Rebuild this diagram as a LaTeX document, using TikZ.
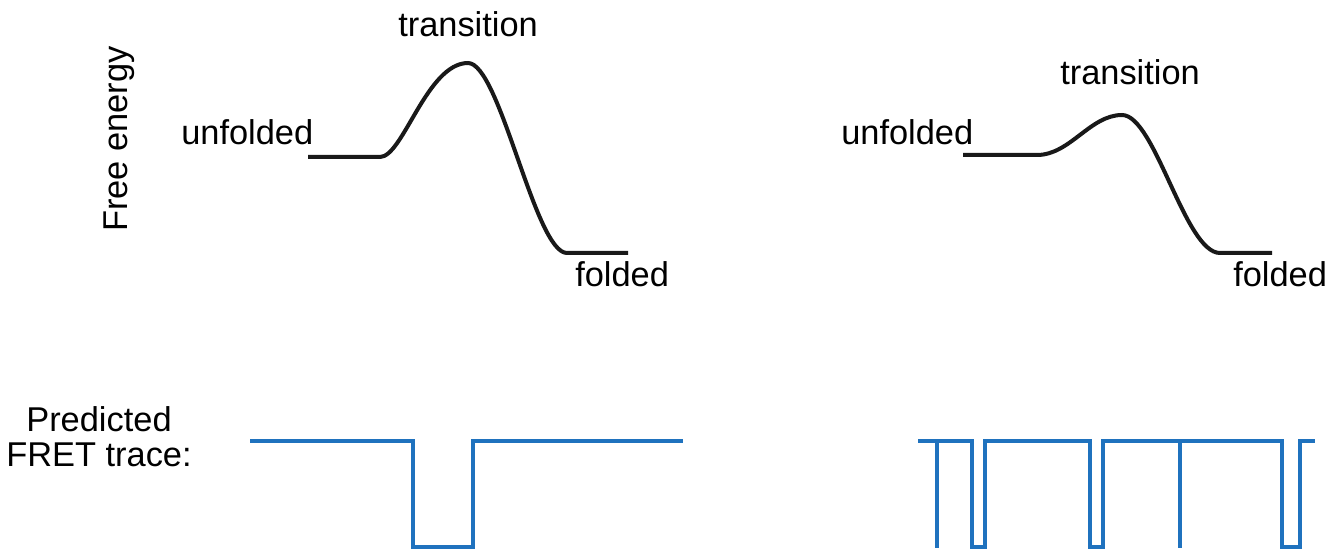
\documentclass[tikz,border=0pt]{standalone}
\usepackage{fontspec}
\setmainfont{Liberation Sans}
\definecolor{tracecol}{RGB}{31,114,190}
\begin{document}
\begin{tikzpicture}[x=0.75pt,y=-0.75pt,
  lbl/.style={inner sep=0pt,font=\fontsize{25.8}{26.25}\selectfont},
  energy/.style={line width=3pt,black!90,line cap=butt},
  fret/.style={line width=3.5pt,tracecol,line join=miter}]
\useasboundingbox (0,0) rectangle (1340,552);

% axis label and trace caption
\node[lbl,rotate=90,anchor=base] (fe) at (127,139) {Free energy};
\node[lbl,align=center,anchor=base] (pft) at (99,467) {Predicted\\FRET trace:};

% left energy landscape: high barrier
\coordinate (lu0) at (308,157);
\coordinate (lu1) at (380,157);
\coordinate (lt)  at (468,63);
\coordinate (lf0) at (567,253);
\coordinate (lf1) at (628,253);
\draw[energy] (lu0) -- (lu1)
  .. controls (403,157) and (427,63) .. (lt)
  .. controls (500,63) and (535,253) .. (lf0) -- (lf1);
\node[lbl,anchor=base west] (lun) at (181,145) {unfolded};
\node[lbl,anchor=base west] (ltr) at (398,37) {transition};
\node[lbl,anchor=base west] (lfo) at (575,287) {folded};

% right energy landscape: low barrier
\coordinate (ru0) at (963,155);
\coordinate (ru1) at (1037,155);
\coordinate (rt)  at (1122,115);
\coordinate (rf0) at (1220,253);
\coordinate (rf1) at (1272,253);
\draw[energy] (ru0) -- (ru1)
  .. controls (1070,155) and (1090,115) .. (rt)
  .. controls (1155,115) and (1185,253) .. (rf0) -- (rf1);
\node[lbl,anchor=base west] (run) at (841,145) {unfolded};
\node[lbl,anchor=base west] (rtr) at (1060,85) {transition};
\node[lbl,anchor=base west] (rfo) at (1233,287) {folded};

% left FRET trace: a single dwell in the low state
\draw[fret] (250,441) -- (413,441) -- (413,547) -- (473,547) -- (473,441) -- (683,441);

% right FRET trace: frequent switching
\draw[fret] (918,441) -- (972,441) -- (972,547) -- (985,547) -- (985,441)
  -- (1090,441) -- (1090,547) -- (1103,547) -- (1103,441)
  -- (1282,441) -- (1282,547) -- (1300,547) -- (1300,441) -- (1315,441);
\draw[fret] (937,441) -- (937,548);
\draw[fret] (1180,441) -- (1180,548);
\end{tikzpicture}
\end{document}
